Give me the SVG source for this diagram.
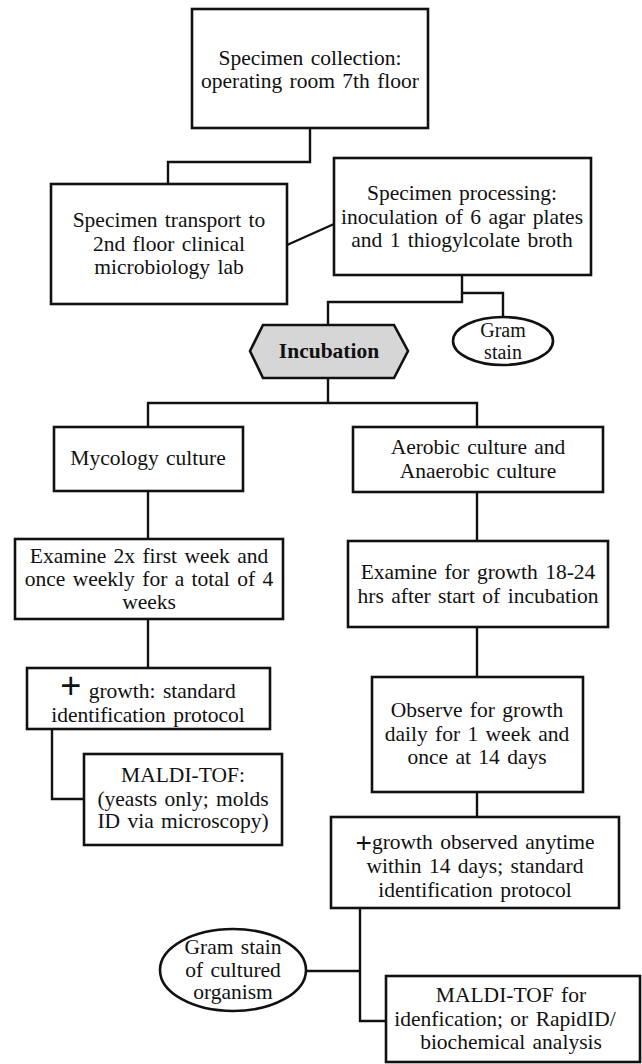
<svg xmlns="http://www.w3.org/2000/svg" width="642" height="1064" viewBox="0 0 642 1064">
<style>
.box{fill:#fff;stroke:#111;stroke-width:2.6}
.hex{fill:#d6d6d6;stroke:#111;stroke-width:2.6}
.conn{fill:none;stroke:#111;stroke-width:2.4}
text{font-family:"Liberation Serif","Times New Roman",serif;font-size:21.5px;word-spacing:2px;fill:#111;text-anchor:middle}
.b{font-weight:bold;word-spacing:0}
.plus{font-family:"Liberation Sans",Arial,sans-serif}
</style>
<rect width="642" height="1064" fill="#fff"/>
<g id="connectors">
<path class="conn" d="M310,128 V162 H168 V184"/>
<path class="conn" d="M287,245 L334,224"/>
<path class="conn" d="M462,275 V302 H328 V325"/>
<path class="conn" d="M462,293 H503 V317"/>
<path class="conn" d="M328,378 V403"/>
<path class="conn" d="M148,427 V403 H477 V427"/>
<path class="conn" d="M148,491 V539"/>
<path class="conn" d="M148,619 V668"/>
<path class="conn" d="M52,729 V799 H84"/>
<path class="conn" d="M477,492 V541"/>
<path class="conn" d="M477,627 V677"/>
<path class="conn" d="M477,792 V817"/>
<path class="conn" d="M360,908 V1021 H386"/>
<path class="conn" d="M360,971 H306"/>
</g>
<g id="collection">
<rect class="box" x="192" y="9" width="236" height="119"/>
<text x="310" y="65">Specimen collection:</text>
<text x="310" y="88">operating room 7th floor</text>
</g>
<g id="transport">
<rect class="box" x="51" y="184" width="236" height="120"/>
<text x="169" y="227">Specimen transport to</text>
<text x="169" y="251">2nd floor clinical</text>
<text x="169" y="274">microbiology lab</text>
</g>
<g id="processing">
<rect class="box" x="334" y="158" width="257" height="117"/>
<text x="462" y="200">Specimen processing:</text>
<text x="462" y="224">inoculation of 6 agar plates</text>
<text x="462" y="247">and 1 thiogylcolate broth</text>
</g>
<g id="gramstain">
<ellipse class="box" cx="503" cy="341" rx="50" ry="24"/>
<text x="503" y="337" style="font-size:20px">Gram</text>
<text x="503" y="359" style="font-size:20px">stain</text>
</g>
<g id="incubation">
<polygon class="hex" points="263,325 394,325 408,351 394,378 263,378 250,351"/>
<text class="b" x="329" y="358">Incubation</text>
</g>
<g id="mycology">
<rect class="box" x="54" y="427" width="189" height="64"/>
<text x="148" y="465">Mycology culture</text>
</g>
<g id="aerobic">
<rect class="box" x="353" y="427" width="250" height="65"/>
<text x="478" y="454">Aerobic culture and</text>
<text x="478" y="478">Anaerobic culture</text>
</g>
<g id="examine-myco">
<rect class="box" x="15" y="539" width="268" height="80"/>
<text x="149" y="563">Examine 2x first week and</text>
<text x="149" y="586">once weekly for a total of 4</text>
<text x="149" y="609">weeks</text>
</g>
<g id="examine-aer">
<rect class="box" x="348" y="541" width="260" height="86"/>
<text x="478" y="579">Examine for growth 18-24</text>
<text x="478" y="603">hrs after start of incubation</text>
</g>
<g id="growth-myco">
<rect class="box" x="27" y="668" width="243" height="61"/>
<text x="148" y="698"><tspan class="plus" style="font-size:36px">+</tspan> growth: standard</text>
<text x="148" y="722">identification protocol</text>
</g>
<g id="observe">
<rect class="box" x="372" y="677" width="211" height="115"/>
<text x="477" y="717">Observe for growth</text>
<text x="477" y="741">daily for 1 week and</text>
<text x="477" y="764">once at 14 days</text>
</g>
<g id="maldi-myco">
<rect class="box" x="84" y="754" width="198" height="91"/>
<text x="183" y="782">MALDI-TOF:</text>
<text x="183" y="806">(yeasts only; molds</text>
<text x="183" y="828">ID via microscopy)</text>
</g>
<g id="growth-aer">
<rect class="box" x="331" y="817" width="288" height="91"/>
<text x="475" y="849"><tspan class="plus" style="font-size:28px" dy="3">+</tspan><tspan dy="-3">growth observed anytime</tspan></text>
<text x="475" y="873">within 14 days; standard</text>
<text x="475" y="897">identification protocol</text>
</g>
<g id="gram-cultured">
<ellipse class="box" cx="233" cy="970" rx="73" ry="41"/>
<text x="233" y="954">Gram stain</text>
<text x="233" y="977">of cultured</text>
<text x="233" y="999">organism</text>
</g>
<g id="maldi-aer">
<rect class="box" x="386" y="976" width="254" height="86"/>
<text x="511" y="1002">MALDI-TOF for</text>
<text x="505" y="1026">idenfication; or RapidID/</text>
<text x="511" y="1049">biochemical analysis</text>
</g>
</svg>
